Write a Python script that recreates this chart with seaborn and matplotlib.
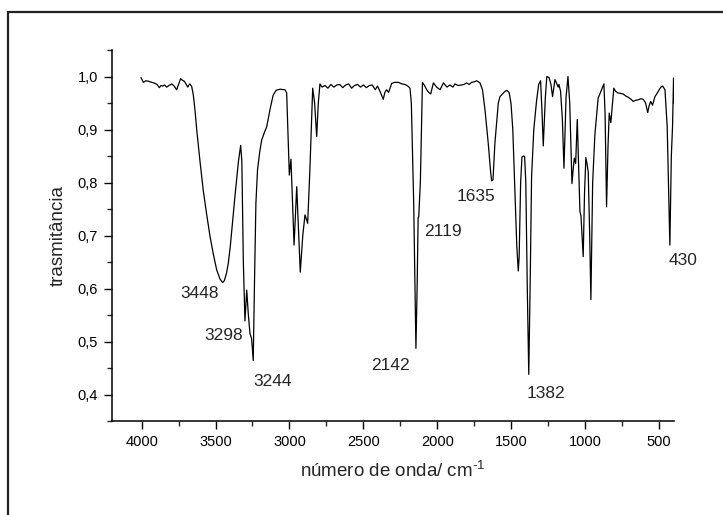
import matplotlib
matplotlib.use("Agg")
import matplotlib.pyplot as plt
import seaborn as sns
import pandas as pd
from matplotlib.ticker import MultipleLocator, FuncFormatter
from matplotlib.patches import Rectangle

# ---- data ----
wavenumber = [
    4004, 3988, 3970, 3954, 3930, 3909, 3895, 3880, 3868, 3857, 3845, 3830, 3815, 3796,
    3780, 3763, 3750, 3736, 3724, 3711, 3700, 3688, 3680, 3673, 3661, 3650, 3639, 3627,
    3605, 3583, 3560, 3537, 3515, 3492, 3470, 3452, 3440, 3425, 3414, 3400, 3385, 3369,
    3345, 3330, 3322, 3312, 3301, 3289, 3278, 3267, 3256, 3245, 3236, 3227, 3216, 3200,
    3188, 3166, 3154, 3130, 3110, 3090, 3064, 3030, 3019, 3001, 2990, 2969, 2951, 2927,
    2910, 2895, 2877, 2862, 2843, 2830, 2816, 2805, 2794, 2780, 2760, 2740, 2720, 2700,
    2680, 2660, 2640, 2620, 2600, 2580, 2560, 2540, 2520, 2500, 2480, 2460, 2440, 2420,
    2405, 2388, 2366, 2355, 2343, 2330, 2309, 2290, 2264, 2240, 2219, 2200, 2185, 2176,
    2160, 2145, 2137, 2130, 2126, 2115, 2101, 2085, 2072, 2058, 2045, 2027, 2005, 1982,
    1959, 1935, 1915, 1895, 1881, 1860, 1836, 1820, 1802, 1785, 1768, 1750, 1734, 1712,
    1695, 1678, 1656, 1640, 1633, 1624, 1611, 1588, 1577, 1566, 1550, 1532, 1515, 1502,
    1490, 1475, 1463, 1453, 1447, 1437, 1428, 1418, 1410, 1402, 1392, 1382, 1372, 1363,
    1348, 1329, 1315, 1302, 1292, 1284, 1270, 1260, 1245, 1232, 1221, 1205, 1198, 1183,
    1178, 1167, 1155, 1144, 1130, 1117, 1105, 1090, 1080, 1074, 1065, 1054, 1036, 1029,
    1014, 1005, 996, 988, 980, 970, 962, 950, 935, 913, 890, 874, 866, 856,
    846, 838, 827, 807, 795, 778, 760, 744, 725, 710, 690, 676, 660, 642,
    625, 608, 592, 578, 568, 558, 545, 529, 515, 500, 488, 477, 468, 461,
    446, 428, 418, 410, 403, 400,
]
transmittance = [
    0.998, 0.989, 0.992, 0.991, 0.989, 0.987, 0.985, 0.979, 0.983, 0.982, 0.984, 0.980, 0.983, 0.986,
    0.982, 0.975, 0.985, 0.996, 0.993, 0.991, 0.986, 0.980, 0.984, 0.986, 0.981, 0.965, 0.937, 0.899,
    0.840, 0.785, 0.740, 0.698, 0.665, 0.635, 0.618, 0.611, 0.615, 0.630, 0.647, 0.680, 0.725, 0.773,
    0.840, 0.870, 0.840, 0.650, 0.539, 0.597, 0.550, 0.515, 0.505, 0.464, 0.620, 0.761, 0.824, 0.860,
    0.880, 0.897, 0.905, 0.940, 0.965, 0.974, 0.976, 0.975, 0.969, 0.814, 0.844, 0.682, 0.792, 0.631,
    0.700, 0.739, 0.723, 0.824, 0.978, 0.950, 0.887, 0.950, 0.986, 0.980, 0.983, 0.978, 0.985, 0.980,
    0.984, 0.985, 0.979, 0.984, 0.986, 0.978, 0.983, 0.985, 0.980, 0.984, 0.979, 0.983, 0.984, 0.975,
    0.982, 0.972, 0.957, 0.970, 0.975, 0.970, 0.987, 0.989, 0.989, 0.986, 0.985, 0.982, 0.978, 0.950,
    0.760, 0.487, 0.600, 0.733, 0.735, 0.800, 0.989, 0.982, 0.975, 0.970, 0.967, 0.988, 0.980, 0.975,
    0.988, 0.980, 0.984, 0.980, 0.986, 0.983, 0.984, 0.985, 0.988, 0.985, 0.989, 0.990, 0.992, 0.988,
    0.975, 0.937, 0.874, 0.820, 0.803, 0.805, 0.874, 0.950, 0.962, 0.965, 0.970, 0.974, 0.970, 0.949,
    0.900, 0.780, 0.680, 0.633, 0.660, 0.800, 0.848, 0.850, 0.849, 0.800, 0.600, 0.438, 0.620, 0.811,
    0.900, 0.955, 0.985, 0.992, 0.930, 0.869, 0.960, 1.000, 0.998, 0.985, 0.962, 0.994, 0.990, 0.980,
    0.985, 0.972, 0.920, 0.827, 0.960, 1.000, 0.950, 0.798, 0.830, 0.846, 0.836, 0.919, 0.745, 0.737,
    0.660, 0.780, 0.847, 0.835, 0.820, 0.700, 0.579, 0.800, 0.890, 0.959, 0.975, 0.986, 0.930, 0.754,
    0.870, 0.931, 0.913, 0.978, 0.972, 0.969, 0.968, 0.967, 0.963, 0.961, 0.957, 0.953, 0.955, 0.956,
    0.958, 0.957, 0.950, 0.932, 0.945, 0.953, 0.946, 0.962, 0.968, 0.975, 0.980, 0.982, 0.978, 0.975,
    0.905, 0.682, 0.850, 0.905, 0.997, 0.950,
]

peak_labels = ["3448", "3298", "3244", "2142", "2119", "1635", "1382", "430"]
peak_label_x = [3605, 3443, 3111, 2320, 1964, 1739, 1266, 341]
peak_label_y = [0.591, 0.512, 0.425, 0.455, 0.707, 0.773, 0.401, 0.652]

x_ticks = [4000, 3500, 3000, 2500, 2000, 1500, 1000, 500]
y_ticks = [0.4, 0.5, 0.6, 0.7, 0.8, 0.9, 1.0]

df = pd.DataFrame({"wn": wavenumber, "T": transmittance})

sns.set_style("ticks")
plt.rcParams["font.family"] = ["Liberation Sans", "DejaVu Sans"]
plt.rcParams["mathtext.fontset"] = "custom"
plt.rcParams["mathtext.rm"] = "Liberation Sans"
plt.rcParams["mathtext.it"] = "Liberation Sans:italic"
plt.rcParams["mathtext.bf"] = "Liberation Sans:bold"
plt.rcParams["mathtext.default"] = "regular"

fig = plt.figure(figsize=(7.23, 5.15), dpi=100)
ax = fig.add_axes([112 / 723, 1 - 421 / 515, (674 - 112) / 723, (421 - 50) / 515])

sns.lineplot(data=df, x="wn", y="T", ax=ax, color="black", linewidth=0.9,
             estimator=None, sort=False)

ax.set_xlim(4200, 400)
ax.set_ylim(0.35, 1.05)
ax.set_xticks(x_ticks)
ax.set_yticks(y_ticks)
ax.xaxis.set_minor_locator(MultipleLocator(250))
ax.yaxis.set_minor_locator(MultipleLocator(0.05))
ax.yaxis.set_major_formatter(FuncFormatter(lambda v, p: f"{v:.1f}".replace(".", ",")))
ax.tick_params(axis="both", which="major", direction="out", length=6, width=1.0,
               labelsize=10.5, colors="black", pad=4)
ax.tick_params(axis="both", which="minor", direction="out", length=3.5, width=1.0)

for s in ["top", "right"]:
    ax.spines[s].set_visible(False)
for s in ["left", "bottom"]:
    ax.spines[s].set_linewidth(1.1)
    ax.spines[s].set_color("black")

ax.set_xlabel(r"número de onda/ cm$^{\text{-1}}$", fontsize=13.5, labelpad=9)
ax.set_ylabel("trasmitância", fontsize=13.5, labelpad=8)

for lab, lx, ly in zip(peak_labels, peak_label_x, peak_label_y):
    ax.text(lx, ly, lab, fontsize=12.5, ha="center", va="center", clip_on=False)

# outer frame (clipped at right and bottom edges)
fig.patches.append(Rectangle((8 / 723, -0.1), 1.2, 1 - 12 / 515 + 0.1,
                             transform=fig.transFigure, fill=False,
                             edgecolor="#222222", linewidth=1.6))

fig.savefig("out.png", dpi=100)
